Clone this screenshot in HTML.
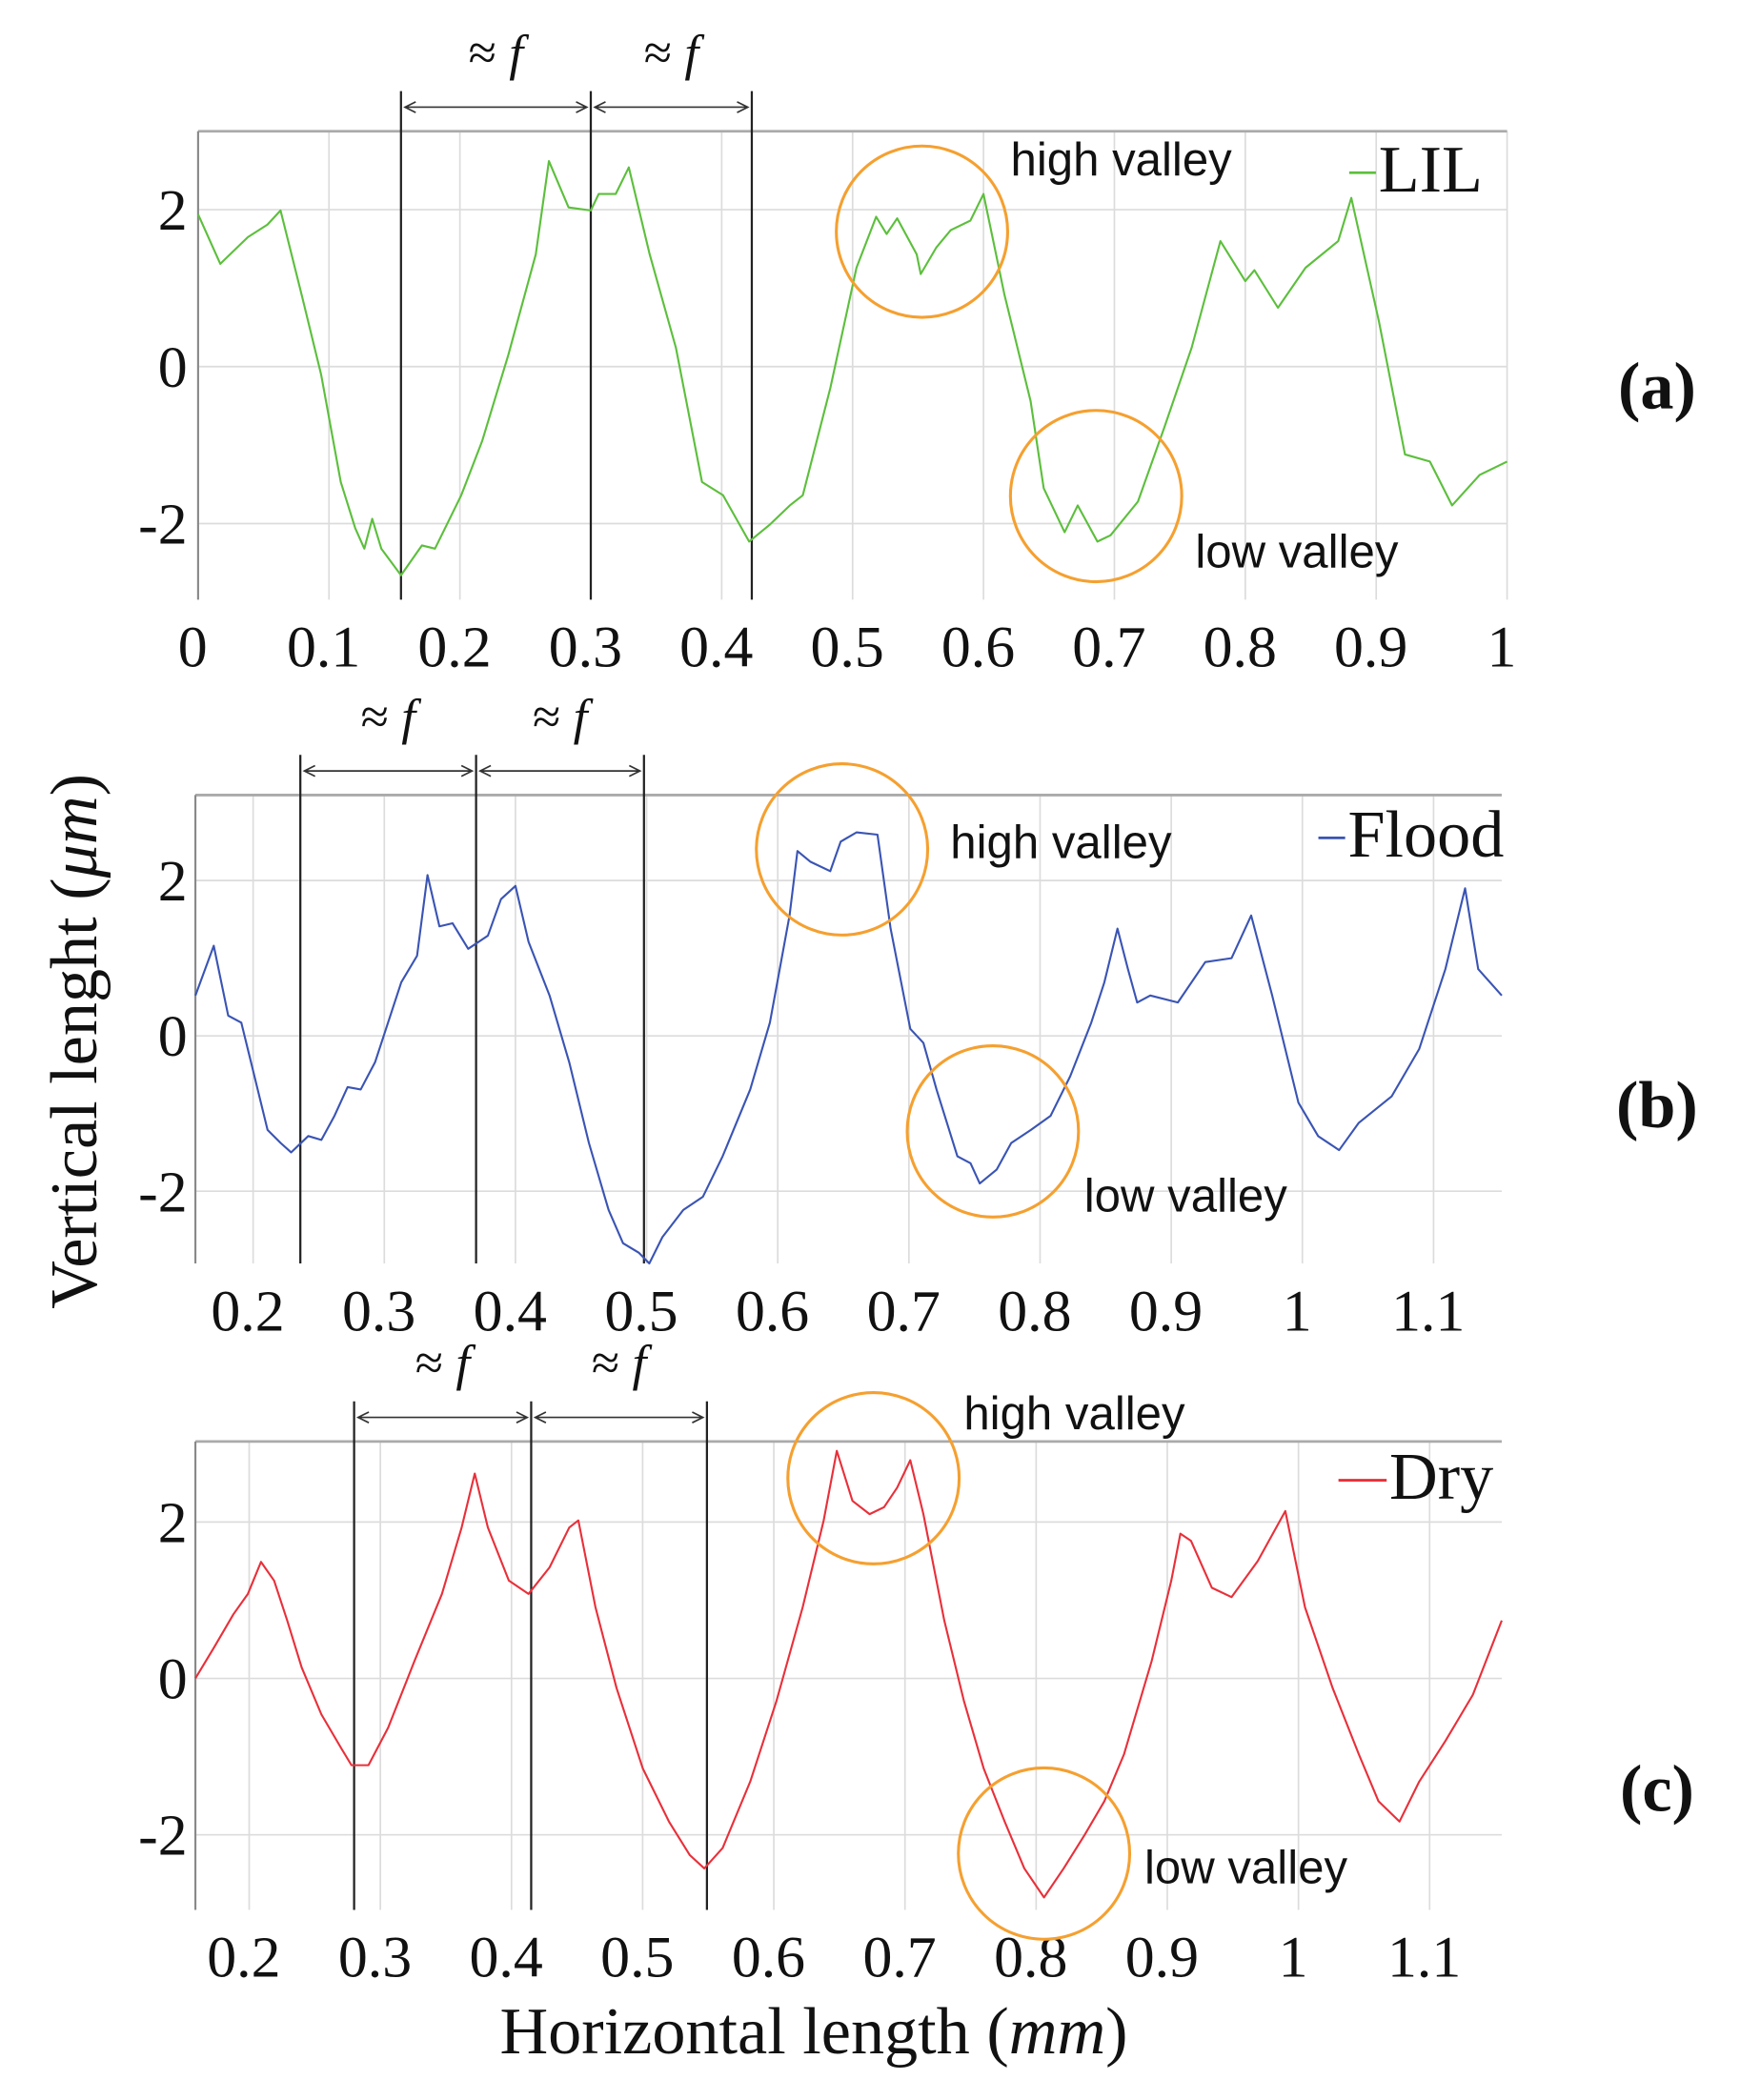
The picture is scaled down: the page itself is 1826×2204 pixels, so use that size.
<!DOCTYPE html>
<html><head><meta charset="utf-8"><style>
html,body{margin:0;padding:0;background:#fff}
svg{display:block}
.tk{font-family:"Liberation Serif",serif;fill:#111}
.an{font-family:"Liberation Sans",sans-serif;font-size:35px;fill:#111}
</style></head><body>
<svg id="chart" width="1826" height="2204" viewBox="0 0 1300 1569" xmlns="http://www.w3.org/2000/svg">
<text class="tk" transform="translate(72,778) rotate(-90)" text-anchor="middle" style="font-size:50px">Vertical lenght (<tspan font-style="italic">μm</tspan>)</text>
<text class="tk" x="608" y="1534" text-anchor="middle" style="font-size:50px">Horizontal length (<tspan font-style="italic">mm</tspan>)</text>
</svg>
<script>
const lilX=[0,0.017,0.038,0.053,0.063,0.079,0.094,0.109,0.12,0.127,0.133,0.14,0.155,0.171,0.181,0.201,0.217,0.237,0.258,0.268,0.283,0.3,0.306,0.319,0.329,0.345,0.365,0.385,0.401,0.421,0.437,0.452,0.462,0.483,0.503,0.518,0.526,0.534,0.549,0.552,0.564,0.575,0.59,0.6,0.616,0.636,0.646,0.662,0.672,0.687,0.697,0.718,0.738,0.759,0.781,0.8,0.807,0.825,0.846,0.871,0.881,0.902,0.922,0.941,0.958,0.979,1.0];
const lilY=[1.94,1.31,1.65,1.81,1.99,0.92,-0.1,-1.47,-2.06,-2.32,-1.94,-2.32,-2.66,-2.28,-2.32,-1.64,-0.95,0.15,1.43,2.62,2.03,1.99,2.2,2.2,2.54,1.43,0.24,-1.47,-1.64,-2.23,-2.01,-1.77,-1.64,-0.27,1.26,1.91,1.69,1.89,1.43,1.18,1.52,1.74,1.86,2.2,0.92,-0.44,-1.55,-2.11,-1.77,-2.23,-2.15,-1.72,-0.78,0.24,1.6,1.09,1.23,0.75,1.26,1.6,2.15,0.58,-1.12,-1.21,-1.77,-1.38,-1.21];
const floodX=[0.156,0.17,0.181,0.191,0.201,0.211,0.221,0.229,0.242,0.252,0.262,0.272,0.282,0.293,0.313,0.325,0.333,0.342,0.352,0.364,0.379,0.389,0.4,0.41,0.426,0.441,0.456,0.471,0.482,0.494,0.502,0.512,0.528,0.543,0.558,0.579,0.594,0.609,0.615,0.625,0.64,0.648,0.66,0.676,0.686,0.701,0.711,0.721,0.737,0.747,0.754,0.767,0.778,0.793,0.808,0.823,0.839,0.849,0.859,0.867,0.874,0.884,0.905,0.926,0.946,0.961,0.977,0.997,1.012,1.028,1.043,1.068,1.089,1.109,1.124,1.134,1.152];
const floodY=[0.52,1.16,0.26,0.17,-0.52,-1.21,-1.38,-1.5,-1.29,-1.34,-1.03,-0.66,-0.69,-0.34,0.69,1.03,2.07,1.41,1.45,1.12,1.29,1.76,1.93,1.21,0.52,-0.34,-1.38,-2.24,-2.67,-2.79,-2.93,-2.59,-2.24,-2.07,-1.55,-0.69,0.17,1.55,2.38,2.24,2.12,2.5,2.62,2.59,1.38,0.09,-0.09,-0.69,-1.55,-1.64,-1.9,-1.72,-1.38,-1.21,-1.03,-0.52,0.17,0.69,1.38,0.86,0.43,0.52,0.43,0.95,1.0,1.55,0.52,-0.86,-1.29,-1.47,-1.12,-0.78,-0.17,0.86,1.9,0.86,0.52];
const dryX=[0.159,0.173,0.188,0.199,0.209,0.219,0.229,0.24,0.255,0.27,0.278,0.291,0.306,0.326,0.347,0.362,0.372,0.382,0.398,0.413,0.429,0.444,0.451,0.464,0.48,0.5,0.52,0.536,0.547,0.561,0.582,0.602,0.622,0.638,0.648,0.66,0.673,0.684,0.694,0.704,0.714,0.73,0.745,0.76,0.776,0.791,0.806,0.821,0.837,0.852,0.867,0.888,0.903,0.91,0.918,0.934,0.949,0.969,0.99,1.005,1.026,1.046,1.061,1.077,1.092,1.112,1.133,1.155];
const dryY=[0,0.39,0.82,1.08,1.49,1.25,0.74,0.14,-0.46,-0.89,-1.11,-1.11,-0.63,0.22,1.08,1.93,2.62,1.93,1.25,1.08,1.42,1.93,2.02,0.91,-0.12,-1.15,-1.83,-2.26,-2.43,-2.17,-1.32,-0.29,0.91,2.02,2.91,2.27,2.1,2.19,2.44,2.79,2.1,0.74,-0.29,-1.15,-1.83,-2.43,-2.8,-2.43,-2.0,-1.57,-0.97,0.22,1.25,1.85,1.76,1.16,1.04,1.5,2.14,0.91,-0.12,-0.97,-1.57,-1.83,-1.32,-0.8,-0.21,0.74];
const ticksA=["0","0.1","0.2","0.3","0.4","0.5","0.6","0.7","0.8","0.9","1"];
const ticksBC=["0.2","0.3","0.4","0.5","0.6","0.7","0.8","0.9","1","1.1"];
const yTicks=[2,0,-2];
const markersA=[0.155,0.3,0.423];
const markersB=[0.236,0.37,0.498];
const markersC=[0.28,0.415,0.549];
const circlesA=[[0.553,1.72],[0.686,-1.65]];
const circlesB=[[0.649,2.4],[0.764,-1.23]];
const circlesC=[[0.676,2.56],[0.806,-2.24]];

const svg=document.getElementById('chart');
const NS='http://www.w3.org/2000/svg';
function mk(tag,attrs,parent){const e=document.createElementNS(NS,tag);for(const k in attrs)e.setAttribute(k,attrs[k]);(parent||svg).appendChild(e);return e;}

const panels=[
 {id:'a',x0:0,x1:1,L:148,R:1126,T:98,B:448,yTop:3,yBot:-2.97,xs:lilX,ys:lilY,color:'#5cbf3c',ticks:ticksA,tickVals:ticksA.map(Number),markers:markersA,circles:circlesA,legend:'LIL',legX:1008,legY:143,hvX:755,hvY:131,lvX:893,lvY:424,plY:305},
 {id:'b',x0:0.156,x1:1.152,L:146,R:1122,T:594,B:944,yTop:3.1,yBot:-2.93,xs:floodX,ys:floodY,color:'#3a54b4',ticks:ticksBC,tickVals:ticksBC.map(Number),markers:markersB,circles:circlesB,legend:'Flood',legX:985,legY:640,hvX:710,hvY:641,lvX:810,lvY:905,plY:842},
 {id:'c',x0:0.159,x1:1.155,L:146,R:1122,T:1077,B:1427,yTop:3.03,yBot:-2.96,xs:dryX,ys:dryY,color:'#e8303a',ticks:ticksBC,tickVals:ticksBC.map(Number),markers:markersC,circles:circlesC,legend:'Dry',legX:1000,legY:1120,hvX:720,hvY:1068,lvX:855,lvY:1407,plY:1353}
];
panels.forEach(p=>{
 const sx=v=>p.L+(v-p.x0)/(p.x1-p.x0)*(p.R-p.L);
 const sy=v=>p.T+(p.yTop-v)/(p.yTop-p.yBot)*(p.B-p.T);
 const g=mk('g',{});
 
 
 p.tickVals.forEach((v,i)=>{
  const X=sx(v);
  const gl=mk('line',{x1:X,x2:X,y1:p.T,y2:p.B,stroke:'#dcdcdc','stroke-width':1.2},g);
  
  
  const t=mk('text',{x:X-4,y:p.B+50,'text-anchor':'middle',class:'tk',style:'font-size:44px'},g);
  t.textContent=p.ticks[i];
  
  
 });
 yTicks.forEach(v=>{
  const Y=sy(v);
  const gl=mk('line',{x1:p.L,x2:p.R,y1:Y,y2:Y,stroke:'#dcdcdc','stroke-width':1.2},g);
  
  
  const t=mk('text',{x:140,y:Y+15,'text-anchor':'end',class:'tk',style:'font-size:44px'},g);
  t.textContent=String(v);
  
  
 });
 const top=mk('line',{x1:p.L,x2:p.R,y1:p.T,y2:p.T,stroke:'#aaa','stroke-width':2},g);
 
 
 const lft=mk('line',{x1:p.L,x2:p.L,y1:p.T,y2:p.B,stroke:'#888','stroke-width':1.5},g);
 
 
 const mt=p.T-30;
 p.markers.forEach(m=>{
  const l=mk('line',{x1:sx(m),x2:sx(m),y1:mt,y2:p.B,stroke:'#222','stroke-width':1.6},g);
  
  
 });
 for(let i=0;i<2;i++){
  const a=sx(p.markers[i])+3,b=sx(p.markers[i+1])-3,ay=mt+12;
  const ar=mk('path',{d:`M${a} ${ay}H${b}M${a+8} ${ay-4}L${a} ${ay}L${a+8} ${ay+4}M${b-8} ${ay-4}L${b} ${ay}L${b-8} ${ay+4}`,stroke:'#333','stroke-width':1.2,fill:'none'},g);
  
  
  const t=mk('text',{x:(a+b)/2,y:mt-16,'text-anchor':'middle',class:'tk',style:'font-size:38px'},g);
  t.textContent='≈ ';
  const ts=mk('tspan',{'font-style':'italic'},t);ts.textContent='f';
  
  
 }
 const d=p.xs.map((v,i)=>(i?'L':'M')+sx(v).toFixed(1)+' '+sy(p.ys[i]).toFixed(1)).join('');
 const path=mk('path',{d:d,stroke:p.color,'stroke-width':1.5,fill:'none','stroke-linejoin':'round'},g);
 
 
 p.circles.forEach(c=>{
  const ci=mk('circle',{cx:sx(c[0]),cy:sy(c[1]),r:64,fill:'none',stroke:'#f5a030','stroke-width':2.2},g);
  
  
 });
 const hv=mk('text',{x:p.hvX,y:p.hvY,class:'an'},g);hv.textContent='high valley';
 
 
 const lv=mk('text',{x:p.lvX,y:p.lvY,class:'an'},g);lv.textContent='low valley';
 
 
 const sw=(p.legend==='Dry'?36:20);
 const ll=mk('line',{x1:p.legX,x2:p.legX+sw,y1:p.legY-14,y2:p.legY-14,stroke:p.color,'stroke-width':2},g);
 
 
 const lt=mk('text',{x:p.legX+sw+2,y:p.legY,class:'tk',style:'font-size:50px'},g);lt.textContent=p.legend;
 
 
 const pl=mk('text',{x:1238,y:p.plY,'text-anchor':'middle',class:'tk',style:'font-size:50px;font-weight:bold'},g);
 pl.textContent='('+p.id+')';
 
 
});
</script>
</body></html>
